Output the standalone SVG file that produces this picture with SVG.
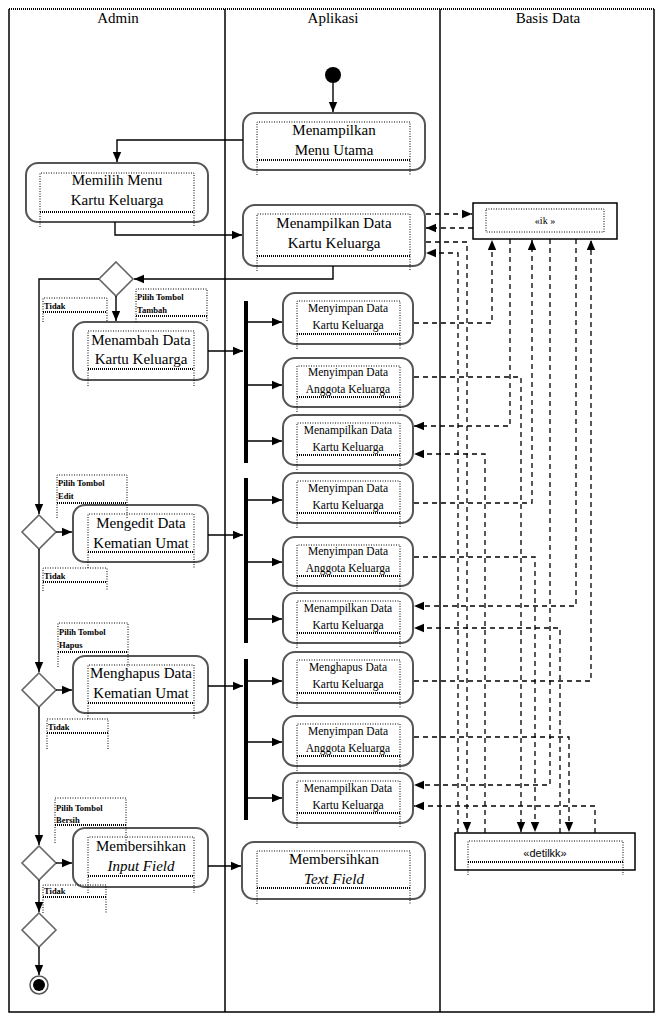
<svg xmlns="http://www.w3.org/2000/svg" width="657" height="1015" viewBox="0 0 657 1015">
<style>
.lane{stroke:#000;stroke-width:1.5;fill:none}
.hdr{font-family:"Liberation Serif",serif;font-size:15px;text-anchor:middle;fill:#000}
.act{fill:#fff;stroke:#555;stroke-width:2}
.dot{fill:none;stroke:#000;stroke-width:1;stroke-dasharray:1 1.5}
.dot2{fill:none;stroke:#000;stroke-width:2;stroke-dasharray:1 1}
.t{font-family:"Liberation Serif",serif;font-size:15px;text-anchor:middle;fill:#000}
.ts{font-family:"Liberation Serif",serif;font-size:11.5px;text-anchor:middle;fill:#000}
.lb{font-family:"Liberation Serif",serif;font-size:8.5px;font-weight:bold;fill:#000}
.flow{fill:none;stroke:#000;stroke-width:1.4}
.dash{fill:none;stroke:#000;stroke-width:1.3;stroke-dasharray:5 4}
.dia{fill:#fff;stroke:#666;stroke-width:1.6}
.db{fill:#fff;stroke:#000;stroke-width:1.5}
</style>
<defs>
<marker id="ah" markerUnits="userSpaceOnUse" markerWidth="10" markerHeight="10" viewBox="0 0 10 10" refX="10" refY="5" orient="auto"><path d="M0,0.8 L10,5 L0,9.2 Z" fill="#000"/></marker>
</defs>
<g id="frame">
<line x1="9" y1="9" x2="654" y2="9" class="dot2"/>
<path class="lane" d="M9,9 V1012 H654 V9 M225,9 V1012 M440,9 V1012"/>
<text class="hdr" x="118" y="23">Admin</text>
<text class="hdr" x="333" y="23">Aplikasi</text>
<text class="hdr" x="548" y="23">Basis Data</text>
</g>
<g id="start"><circle cx="333" cy="75" r="8" fill="#000"/></g>
<g id="menuUtama">
<rect class="act" x="243" y="113" width="182" height="57" rx="12"/>
<path class="dot" d="M257,175 V122 H410 V175"/><line class="dot2" x1="257" y1="160" x2="410" y2="160"/>
<text class="t" x="334" y="135">Menampilkan</text><text class="t" x="334" y="155">Menu Utama</text>
</g>
<g id="pilihMenu">
<rect class="act" x="26" y="163" width="182" height="59" rx="12"/>
<path class="dot" d="M40,227 V173 H194 V227"/><line class="dot2" x1="40" y1="212" x2="194" y2="212"/>
<text class="t" x="117" y="185">Memilih Menu</text><text class="t" x="117" y="205">Kartu Keluarga</text>
</g>
<g id="tampilData">
<rect class="act" x="243" y="205" width="182" height="61" rx="12"/>
<path class="dot" d="M257,271 V214 H410 V271"/><line class="dot2" x1="257" y1="256" x2="410" y2="256"/>
<text class="t" x="334" y="228">Menampilkan Data</text><text class="t" x="334" y="248">Kartu Keluarga</text>
</g>
<g id="d1"><path class="dia" d="M116,262 L133,279 L116,296 L99,279 Z"/></g>
<g id="tambah">
<rect class="act" x="73" y="322" width="135" height="58" rx="12"/>
<path class="dot" d="M88,386 V331 H194 V386"/><line class="dot2" x1="88" y1="369" x2="194" y2="369"/>
<text class="t" x="141" y="345">Menambah Data</text><text class="t" x="141" y="364">Kartu Keluarga</text>
</g>
<g id="d2"><path class="dia" d="M39,515 L56,532 L39,549 L22,532 Z"/></g>
<g id="edit">
<rect class="act" x="73" y="505" width="135" height="57" rx="12"/>
<path class="dot" d="M88,568 V514 H194 V568"/><line class="dot2" x1="88" y1="552" x2="194" y2="552"/>
<text class="t" x="141" y="528">Mengedit Data</text><text class="t" x="141" y="548">Kematian Umat</text>
</g>
<g id="d3"><path class="dia" d="M39,673 L56,690 L39,707 L22,690 Z"/></g>
<g id="hapus">
<rect class="act" x="73" y="656" width="135" height="57" rx="12"/>
<path class="dot" d="M88,719 V665 H194 V719"/><line class="dot2" x1="88" y1="703" x2="194" y2="703"/>
<text class="t" x="141" y="678">Menghapus Data</text><text class="t" x="141" y="698">Kematian Umat</text>
</g>
<g id="d4"><path class="dia" d="M39,846 L56,863 L39,880 L22,863 Z"/></g>
<g id="bersihInput">
<rect class="act" x="73" y="828" width="135" height="59" rx="12"/>
<path class="dot" d="M88,893 V837 H194 V893"/><line class="dot2" x1="88" y1="876" x2="194" y2="876"/>
<text class="t" x="141" y="851">Membersihkan</text><text class="t" x="141" y="871" font-style="italic">Input Field</text>
</g>
<g id="bersihText">
<rect class="act" x="242" y="842" width="183" height="57" rx="12"/>
<path class="dot" d="M257,904 V851 H410 V904"/><line class="dot2" x1="257" y1="888" x2="410" y2="888"/>
<text class="t" x="334" y="864">Membersihkan</text><text class="t" x="334" y="884" font-style="italic">Text Field</text>
</g>
<g id="d5"><path class="dia" d="M39,913 L56,930 L39,947 L22,930 Z"/></g>
<g id="end"><circle cx="39" cy="985" r="9" fill="#fff" stroke="#555" stroke-width="1.5"/><circle cx="39" cy="985" r="6" fill="#000"/></g>
<g id="bars">
<rect x="244" y="301" width="4" height="162" fill="#000"/>
<rect x="244" y="478" width="4" height="165" fill="#000"/>
<rect x="244" y="659" width="4" height="161" fill="#000"/>
</g>
<g id="s1"><rect class="act" x="283" y="293" width="130" height="51" rx="12"/><path class="dot" d="M297,349 V301 H400 V349"/><line class="dot2" x1="297" y1="334" x2="400" y2="334"/><text class="ts" x="348" y="312">Menyimpan Data</text><text class="ts" x="348" y="329">Kartu Keluarga</text></g>
<g id="s2"><rect class="act" x="283" y="358" width="130" height="49" rx="12"/><path class="dot" d="M297,412 V366 H400 V412"/><line class="dot2" x1="297" y1="397" x2="400" y2="397"/><text class="ts" x="348" y="376">Menyimpan Data</text><text class="ts" x="348" y="393">Anggota Keluarga</text></g>
<g id="s3"><rect class="act" x="283" y="415" width="130" height="50" rx="12"/><path class="dot" d="M297,470 V423 H400 V470"/><line class="dot2" x1="297" y1="455" x2="400" y2="455"/><text class="ts" x="348" y="434">Menampilkan Data</text><text class="ts" x="348" y="451">Kartu Keluarga</text></g>
<g id="s4"><rect class="act" x="283" y="473" width="130" height="50" rx="12"/><path class="dot" d="M297,528 V481 H400 V528"/><line class="dot2" x1="297" y1="513" x2="400" y2="513"/><text class="ts" x="348" y="492">Menyimpan Data</text><text class="ts" x="348" y="509">Kartu Keluarga</text></g>
<g id="s5"><rect class="act" x="283" y="537" width="130" height="49" rx="12"/><path class="dot" d="M297,591 V545 H400 V591"/><line class="dot2" x1="297" y1="576" x2="400" y2="576"/><text class="ts" x="348" y="555">Menyimpan Data</text><text class="ts" x="348" y="572">Anggota Keluarga</text></g>
<g id="s6"><rect class="act" x="283" y="593" width="130" height="50" rx="12"/><path class="dot" d="M297,648 V601 H400 V648"/><line class="dot2" x1="297" y1="633" x2="400" y2="633"/><text class="ts" x="348" y="612">Menampilkan Data</text><text class="ts" x="348" y="629">Kartu Keluarga</text></g>
<g id="s7"><rect class="act" x="283" y="652" width="130" height="51" rx="12"/><path class="dot" d="M297,708 V660 H400 V708"/><line class="dot2" x1="297" y1="693" x2="400" y2="693"/><text class="ts" x="348" y="671">Menghapus Data</text><text class="ts" x="348" y="688">Kartu Keluarga</text></g>
<g id="s8"><rect class="act" x="283" y="716" width="130" height="50" rx="12"/><path class="dot" d="M297,771 V724 H400 V771"/><line class="dot2" x1="297" y1="756" x2="400" y2="756"/><text class="ts" x="348" y="735">Menyimpan Data</text><text class="ts" x="348" y="752">Anggota Keluarga</text></g>
<g id="s9"><rect class="act" x="283" y="773" width="130" height="50" rx="12"/><path class="dot" d="M297,828 V781 H400 V828"/><line class="dot2" x1="297" y1="813" x2="400" y2="813"/><text class="ts" x="348" y="792">Menampilkan Data</text><text class="ts" x="348" y="809">Kartu Keluarga</text></g>
<g id="dbKK">
<rect class="db" x="473" y="203" width="144" height="36"/>
<path class="dot" d="M486,209 H604 V232 H486 Z"/>
<text x="545" y="224" font-family="Liberation Serif,serif" font-size="10" text-anchor="middle">«ik »</text>
</g>
<g id="dbDetil">
<rect class="db" x="455" y="833" width="180" height="37"/>
<path class="dot" d="M468,875 V841 H623 V875"/><line class="dot2" x1="468" y1="862" x2="623" y2="862"/>
<text x="545" y="857" font-family="Liberation Sans,sans-serif" font-size="11" text-anchor="middle">«detilkk»</text>
</g>
<g id="labels">
<path class="dot" d="M43,322 V298 H107 V322"/><line class="dot2" x1="43" y1="312" x2="107" y2="312"/><text class="lb" x="44" y="309">Tidak</text>
<path class="dot" d="M136,322 V289 H207 V322"/><line class="dot2" x1="136" y1="316" x2="207" y2="316"/><text class="lb" x="137" y="300">Pilih Tombol</text><text class="lb" x="137" y="313">Tambah</text>
<path class="dot" d="M57,518 V475 H127 V518"/><line class="dot2" x1="57" y1="503" x2="127" y2="503"/><text class="lb" x="58" y="486">Pilih Tombol</text><text class="lb" x="58" y="499">Edit</text>
<path class="dot" d="M43,591 V568 H107 V591"/><line class="dot2" x1="43" y1="582" x2="107" y2="582"/><text class="lb" x="44" y="579">Tidak</text>
<path class="dot" d="M58,667 V623 H128 V667"/><line class="dot2" x1="58" y1="652" x2="128" y2="652"/><text class="lb" x="59" y="635">Pilih Tombol</text><text class="lb" x="59" y="648">Hapus</text>
<path class="dot" d="M47,749 V719 H108 V749"/><line class="dot2" x1="47" y1="733" x2="108" y2="733"/><text class="lb" x="48" y="730">Tidak</text>
<path class="dot" d="M55,843 V798 H126 V843"/><line class="dot2" x1="55" y1="825" x2="126" y2="825"/><text class="lb" x="56" y="811">Pilih Tombol</text><text class="lb" x="56" y="823">Bersih</text>
<path class="dot" d="M43,913 V885 H106 V913"/><line class="dot2" x1="43" y1="897" x2="106" y2="897"/><text class="lb" x="44" y="894">Tidak</text>
</g>
<g id="connectors">
<path class="flow" marker-end="url(#ah)" d="M333,83 V112"/>
<path class="flow" marker-end="url(#ah)" d="M243,140 H117 V162"/>
<path class="flow" marker-end="url(#ah)" d="M115,222 V235 H242"/>
<path class="flow" marker-end="url(#ah)" d="M333,266 V279 H134"/>
<path class="flow" marker-end="url(#ah)" d="M99,279 H39 V514"/>
<path class="flow" marker-end="url(#ah)" d="M116,296 V321"/>
<path class="flow" marker-end="url(#ah)" d="M208,351 H243"/>
<path class="flow" marker-end="url(#ah)" d="M248,322 H282"/>
<path class="flow" marker-end="url(#ah)" d="M248,385 H282"/>
<path class="flow" marker-end="url(#ah)" d="M248,441 H282"/>
<path class="flow" marker-end="url(#ah)" d="M56,532 H72"/>
<path class="flow" marker-end="url(#ah)" d="M208,535 H243"/>
<path class="flow" marker-end="url(#ah)" d="M248,500 H282"/>
<path class="flow" marker-end="url(#ah)" d="M248,562 H282"/>
<path class="flow" marker-end="url(#ah)" d="M248,619 H282"/>
<path class="flow" marker-end="url(#ah)" d="M39,549 V672"/>
<path class="flow" marker-end="url(#ah)" d="M56,690 H72"/>
<path class="flow" marker-end="url(#ah)" d="M208,686 H243"/>
<path class="flow" marker-end="url(#ah)" d="M248,681 H282"/>
<path class="flow" marker-end="url(#ah)" d="M248,742 H282"/>
<path class="flow" marker-end="url(#ah)" d="M248,798 H282"/>
<path class="flow" marker-end="url(#ah)" d="M39,707 V845"/>
<path class="flow" marker-end="url(#ah)" d="M56,863 H72"/>
<path class="flow" marker-end="url(#ah)" d="M208,866 H241"/>
<path class="flow" marker-end="url(#ah)" d="M39,880 V912"/>
<path class="flow" marker-end="url(#ah)" d="M39,947 V975"/>
<path class="dash" marker-end="url(#ah)" d="M426,214 H472"/>
<path class="dash" marker-end="url(#ah)" d="M473,228 H426" stroke="#888" stroke-width="2"/>
<path class="dash" marker-end="url(#ah)" d="M426,242 H467 V832"/>
<path class="dash" marker-end="url(#ah)" d="M458,833 V253 H426"/>
<path class="dash" marker-end="url(#ah)" d="M414,323 H492 V240"/>
<path class="dash" marker-end="url(#ah)" d="M414,377 H521 V832"/>
<path class="dash" marker-end="url(#ah)" d="M510,239 V426 H414"/>
<path class="dash" marker-end="url(#ah)" d="M485,833 V454 H414"/>
<path class="dash" marker-end="url(#ah)" d="M414,503 H532 V240"/>
<path class="dash" marker-end="url(#ah)" d="M414,557 H535 V832"/>
<path class="dash" marker-end="url(#ah)" d="M576,239 V606 H414"/>
<path class="dash" marker-end="url(#ah)" d="M560,833 V628 H414"/>
<path class="dash" marker-end="url(#ah)" d="M414,681 H591 V240"/>
<path class="dash" marker-end="url(#ah)" d="M414,737 H569 V832"/>
<path class="dash" marker-end="url(#ah)" d="M550,239 V785 H414"/>
<path class="dash" marker-end="url(#ah)" d="M595,833 V806 H414"/>
</g>
</svg>
